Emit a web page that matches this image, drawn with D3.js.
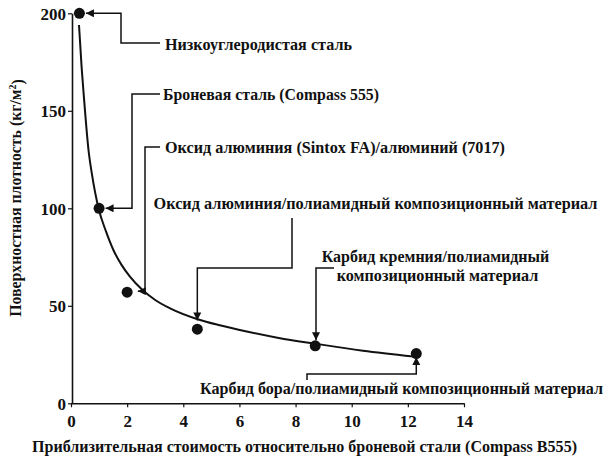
<!DOCTYPE html>
<html>
<head>
<meta charset="utf-8">
<script src="https://cdn.jsdelivr.net/npm/d3@7"></script>
</head>
<body style="margin:0;background:#fff">
<div id="chart"></div>
<script>
// measured points (cost relative to armour steel, areal density kg/m2)
var pointCost = [0.3, 1.0, 2.0, 4.5, 8.7, 12.3];
var pointDensity = [200, 100, 57, 38, 29.5, 25.5];

// trend curve
var curveCost = [0.285, 0.38, 0.46, 0.63, 0.74, 0.98, 1.25, 1.51, 1.8, 2.1, 2.52, 3.0, 3.53, 4.54, 5.3, 6.26, 7.4, 8.73, 10.4, 12.2];
var curveDensity = [194, 172, 157, 129, 118, 100, 88, 78.6, 71, 65, 58.5, 53, 48.7, 43, 40, 36.8, 33.5, 30.5, 27, 24];

var xTicks = [0, 2, 4, 6, 8, 10, 12, 14];
var yTicks = [0, 50, 100, 150, 200];

var labels = [
  ["Низкоуглеродистая сталь"],
  ["Броневая сталь (Compass 555)"],
  ["Оксид алюминия (Sintox FA)/алюминий (7017)"],
  ["Оксид алюминия/полиамидный композиционный материал"],
  ["Карбид кремния/полиамидный", "композиционный материал"],
  ["Карбид бора/полиамидный композиционный материал"]
];

var xTitle = "Приблизительная стоимость относительно броневой стали (Compass B555)";

var serif = "'Liberation Serif', 'DejaVu Serif', serif";
var svgWidth = 612, svgHeight = 461;

var svg = d3.select("#chart").append("svg")
  .attr("width", svgWidth)
  .attr("height", svgHeight)
  .attr("font-family", serif)
  .attr("font-weight", "bold");

svg.append("rect").attr("width", svgWidth).attr("height", svgHeight).attr("fill", "#fff");

var x = d3.scaleLinear().domain([0, 14]).range([71, 464]);
var y = d3.scaleLinear().domain([0, 200]).range([403.3, 13.3]);

// arrow head
svg.append("defs").append("marker")
  .attr("id", "arrow")
  .attr("markerUnits", "userSpaceOnUse")
  .attr("viewBox", "0 0 10 10")
  .attr("refX", 10).attr("refY", 5)
  .attr("markerWidth", 8).attr("markerHeight", 8)
  .attr("orient", "auto")
  .append("path").attr("d", "M0,0L10,5L0,10Z").attr("fill", "#111");

// axes
var xAxis = svg.append("g")
  .attr("transform", "translate(0," + y(0) + ")")
  .call(d3.axisBottom(x).tickValues(xTicks).tickSize(4).tickSizeOuter(0).tickFormat(d3.format("d")));
var yAxis = svg.append("g")
  .attr("transform", "translate(" + (x(0) + 1) + ",0)")
  .call(d3.axisLeft(y).tickValues(yTicks).tickSize(4).tickSizeOuter(0).tickFormat(d3.format("d")));

[xAxis, yAxis].forEach(function(g) {
  g.attr("font-family", serif).attr("font-size", 17);
  g.select(".domain").attr("stroke", "#111").attr("stroke-width", 1.6);
  g.selectAll(".tick line").attr("stroke", "#111").attr("stroke-width", 1.2);
  g.selectAll(".tick text").attr("fill", "#111").style("font-family", serif).style("font-weight", "bold");
});
xAxis.selectAll(".tick text").attr("dy", "1em");
yAxis.selectAll(".tick text").attr("x", -6).attr("dy", "0.35em");

// axis titles
svg.append("text")
  .attr("x", 32).attr("y", 452)
  .attr("fill", "#111")
  .attr("textLength", 545)
  .attr("lengthAdjust", "spacingAndGlyphs")
  .style("font-family", serif)
  .style("font-size", "16px")
  .text(xTitle);

var yTitle = svg.append("text")
  .attr("transform", "translate(20.5,198) rotate(-90)")
  .attr("text-anchor", "middle")
  .attr("fill", "#111")
  .style("font-family", serif)
  .style("font-size", "15.8px");
yTitle.append("tspan").text("Поверхностная плотность (кг/м");
yTitle.append("tspan").attr("dy", "-0.5em").style("font-size", "10px").text("2");
yTitle.append("tspan").attr("dy", "0.5em").text(")");

// curve
var curveData = curveCost.map(function(c, i) { return [c, curveDensity[i]]; });
svg.append("path")
  .datum(curveData)
  .attr("fill", "none")
  .attr("stroke", "#111")
  .attr("stroke-width", 2)
  .attr("d", d3.line().x(function(d) { return x(d[0]); }).y(function(d) { return y(d[1]); }).curve(d3.curveMonotoneX));

// points
var r = 5.5;
var points = pointCost.map(function(c, i) { return [c, pointDensity[i]]; });
svg.selectAll("circle.pt")
  .data(points)
  .enter().append("circle")
  .attr("class", "pt")
  .attr("cx", function(d) { return x(d[0]); })
  .attr("cy", function(d) { return y(d[1]); })
  .attr("r", r)
  .attr("fill", "#111");

function px(i) { return x(points[i][0]); }
function py(i) { return y(points[i][1]); }

// label placement: line start x, baseline, line width; leader elbows in pixels
var layout = [
  { lx: [165], ty: 50, w: [187], path: function() { return [[160, 43], [121, 43], [121, py(0)], [px(0) + r + 1, py(0)]]; } },
  { lx: [163], ty: 100, w: [216], path: function() { return [[160, 94], [132, 94], [132, py(1)], [px(1) + r + 1, py(1)]]; } },
  { lx: [165], ty: 152.5, w: [340], path: function() { return [[160, 147], [145, 147], [145, y(57.5)], [x(2.38), y(57.5)]]; } },
  { lx: [153.5], ty: 208.5, w: [444], path: function() { return [[292, 218], [292, 268], [x(4.5), 268], [x(4.5), y(42.5)]]; } },
  { lx: [321.7, 336.7], ty: 262, w: [227.6, 201.6], path: function() { return [[334, 268], [316, 268], [316, py(4) - r]]; } },
  { lx: [200], ty: 393.5, w: [403], path: function() { return [[307, 380], [307, 374], [x(12.3), 374], [x(12.3), py(5) + r - 2]]; } }
];

layout.forEach(function(l, i) {
  svg.append("path")
    .attr("d", d3.line()(l.path()))
    .attr("fill", "none")
    .attr("stroke", "#111")
    .attr("stroke-width", 1.5)
    .attr("marker-end", "url(#arrow)");
  labels[i].forEach(function(line, j) {
    svg.append("text")
      .attr("x", l.lx[j]).attr("y", l.ty + j * 19)
      .attr("fill", "#111")
      .attr("textLength", l.w[j])
      .attr("lengthAdjust", "spacingAndGlyphs")
      .style("font-family", serif)
      .style("font-size", "16.2px")
      .text(line);
  });
});
</script>
</body>
</html>
